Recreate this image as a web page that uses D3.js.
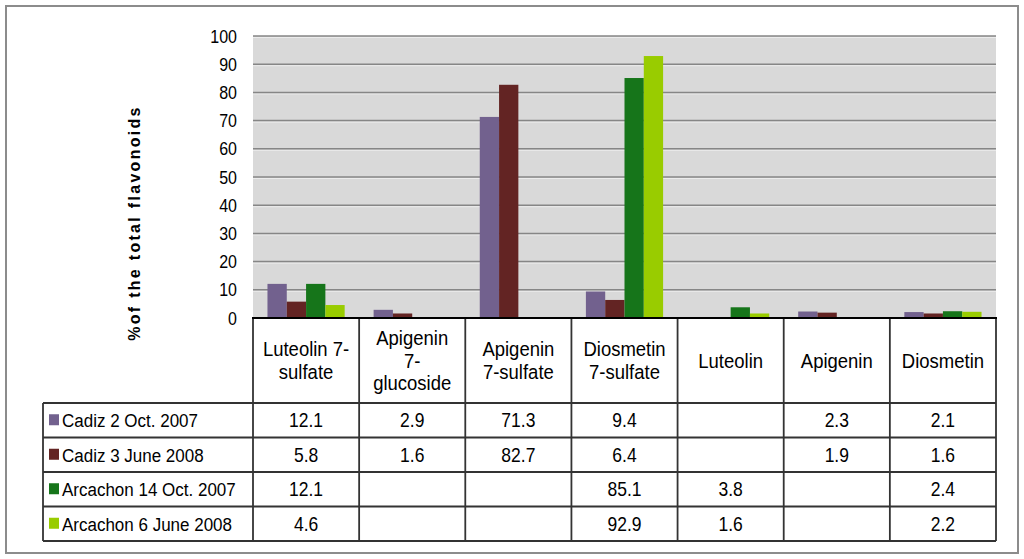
<!DOCTYPE html>
<html>
<head>
<meta charset="utf-8">
<script src="https://cdn.jsdelivr.net/npm/d3@7"></script>
<style>
  body { margin: 0; background: #fff; }
  text { font-family: "Liberation Sans", Arial, sans-serif; fill: #000; }
</style>
</head>
<body>
<div id="vis"></div>
<script>
// categories (each label split into its table lines)
var categories = [
  ['Luteolin 7-', 'sulfate'],
  ['Apigenin', '7-', 'glucoside'],
  ['Apigenin', '7-sulfate'],
  ['Diosmetin', '7-sulfate'],
  ['Luteolin'],
  ['Apigenin'],
  ['Diosmetin']
];
var seriesNames = ['Cadiz 2 Oct. 2007', 'Cadiz 3 June 2008', 'Arcachon 14 Oct. 2007', 'Arcachon 6 June 2008'];
var cadizOct07    = [12.1, 2.9, 71.3, 9.4, null, 2.3, 2.1];
var cadizJun08    = [5.8, 1.6, 82.7, 6.4, null, 1.9, 1.6];
var arcachonOct07 = [12.1, null, null, 85.1, 3.8, null, 2.4];
var arcachonJun08 = [4.6, null, null, 92.9, 1.6, null, 2.2];
var yTicks = [0, 10, 20, 30, 40, 50, 60, 70, 80, 90, 100];

var seriesValues = [cadizOct07, cadizJun08, arcachonOct07, arcachonJun08];
var colors = ['#72618e', '#632423', '#16751a', '#99cc00'];

var width = 1024, height = 559;
var plot = { left: 253, right: 996, top: 36, bottom: 318 };
var tableLeft = 43;
var headerBottom = 403;
var rowH = 34.5;
var stretch = 1.13; // text in the picture is a bit taller than wide

var svg = d3.select('#vis').append('svg')
  .attr('width', width)
  .attr('height', height);

// place a text at (x, y) and stretch it vertically
function placeText(sel, x, y) {
  sel.attr('transform', function(d, i) {
    return 'translate(' + x(d, i) + ',' + y(d, i) + ') scale(1,' + stretch + ')';
  });
}

// outer frame
svg.append('rect')
  .attr('x', 6).attr('y', 6)
  .attr('width', 1012).attr('height', 547)
  .attr('fill', '#fff')
  .attr('stroke', '#8c8c8c')
  .attr('stroke-width', 2);

var x0 = d3.scaleBand()
  .domain(d3.range(categories.length))
  .range([plot.left, plot.right]);

var x1 = d3.scaleBand()
  .domain(d3.range(seriesNames.length))
  .range([0, x0.bandwidth()])
  .paddingOuter(0.75);

var y = d3.scaleLinear()
  .domain([0, 100])
  .range([plot.bottom, plot.top]);

// plot background
svg.append('rect')
  .attr('x', plot.left).attr('y', plot.top)
  .attr('width', plot.right - plot.left)
  .attr('height', plot.bottom - plot.top)
  .attr('fill', '#d9d9d9');

// gridlines (dark line with a light edge below)
var grid = svg.append('g');
grid.selectAll('line.lo')
  .data(yTicks.slice(1))
  .join('line')
  .attr('class', 'lo')
  .attr('x1', plot.left).attr('x2', plot.right)
  .attr('y1', function(d) { return y(d) + 1.5; })
  .attr('y2', function(d) { return y(d) + 1.5; })
  .attr('stroke', '#ececec')
  .attr('stroke-width', 1);
grid.selectAll('line.hi')
  .data(yTicks.slice(1))
  .join('line')
  .attr('class', 'hi')
  .attr('x1', plot.left).attr('x2', plot.right)
  .attr('y1', function(d) { return y(d); })
  .attr('y2', function(d) { return y(d); })
  .attr('stroke', '#868686')
  .attr('stroke-width', 1.5);

// y axis labels
svg.append('g').selectAll('text')
  .data(yTicks)
  .join('text')
  .attr('text-anchor', 'end')
  .style('font-size', '16px')
  .call(placeText, function() { return 237; }, function(d) { return y(d) + 6.5; })
  .text(function(d) { return d; });

// y axis title
svg.append('text')
  .attr('transform', 'translate(140,223) rotate(-90)')
  .attr('text-anchor', 'middle')
  .style('font-size', '16px')
  .style('font-weight', 'bold')
  .style('letter-spacing', '2.3px')
  .text('%of the total flavonoids');

// bars
var groups = svg.append('g').selectAll('g')
  .data(categories)
  .join('g')
  .attr('transform', function(d, i) { return 'translate(' + x0(i) + ',0)'; });

groups.selectAll('rect')
  .data(function(d, i) {
    return seriesValues.map(function(s, j) { return { s: j, v: s[i] }; })
      .filter(function(o) { return o.v != null; });
  })
  .join('rect')
  .attr('x', function(d) { return x1(d.s); })
  .attr('width', x1.bandwidth())
  .attr('y', function(d) { return y(d.v); })
  .attr('height', function(d) { return y(0) - y(d.v); })
  .attr('fill', function(d) { return colors[d.s]; });

// table lines
var tbl = svg.append('g')
  .attr('stroke', '#333')
  .attr('stroke-width', 1.8);

var rowYs = d3.range(seriesNames.length + 1).map(function(i) { return headerBottom + i * rowH; });
var tableBottom = rowYs[rowYs.length - 1];

tbl.selectAll('line.h')
  .data(rowYs)
  .join('line')
  .attr('class', 'h')
  .attr('x1', tableLeft).attr('x2', plot.right)
  .attr('y1', function(d) { return d; })
  .attr('y2', function(d) { return d; });

var colXs = d3.range(categories.length).map(function(i) { return x0(i); }).concat([plot.right]);
tbl.selectAll('line.v')
  .data(colXs)
  .join('line')
  .attr('class', 'v')
  .attr('x1', function(d) { return d; })
  .attr('x2', function(d) { return d; })
  .attr('y1', plot.bottom).attr('y2', tableBottom);

tbl.append('line')
  .attr('x1', tableLeft).attr('x2', tableLeft)
  .attr('y1', headerBottom).attr('y2', tableBottom);

// axis line on top of header
tbl.append('line')
  .attr('x1', plot.left - 1).attr('x2', plot.right + 1)
  .attr('y1', plot.bottom).attr('y2', plot.bottom)
  .attr('stroke', '#000').attr('stroke-width', 2);

// header labels
var headerMid = (plot.bottom + headerBottom) / 2;
var lineH = 22.5;
svg.append('g').selectAll('g')
  .data(categories)
  .join('g')
  .each(function(d, i) {
    var cx = x0(i) + x0.bandwidth() / 2;
    var top = headerMid - (d.length - 1) * lineH / 2 + 7;
    d3.select(this).selectAll('text')
      .data(d)
      .join('text')
      .attr('text-anchor', 'middle')
      .style('font-size', '18.5px')
      .call(placeText, function() { return cx; }, function(line, k) { return top + k * lineH; })
      .text(function(line) { return line; });
  });

// legend rows
var rows = svg.append('g').selectAll('g')
  .data(seriesNames)
  .join('g')
  .attr('transform', function(d, i) { return 'translate(0,' + (rowYs[i] + rowH / 2) + ')'; });

rows.append('rect')
  .attr('x', 49).attr('y', -6)
  .attr('width', 10).attr('height', 11)
  .attr('fill', function(d, i) { return colors[i]; });

rows.append('text')
  .style('font-size', '17px')
  .call(placeText, function() { return 62; }, function() { return 7; })
  .text(function(d) { return d; });

rows.each(function(d, i) {
  d3.select(this).selectAll('text.val')
    .data(seriesValues[i])
    .join('text')
    .attr('class', 'val')
    .attr('text-anchor', 'middle')
    .style('font-size', '17.5px')
    .call(placeText, function(v, j) { return x0(j) + x0.bandwidth() / 2; }, function() { return 7; })
    .text(function(v) { return v == null ? '' : v.toFixed(1); });
});
</script>
</body>
</html>
